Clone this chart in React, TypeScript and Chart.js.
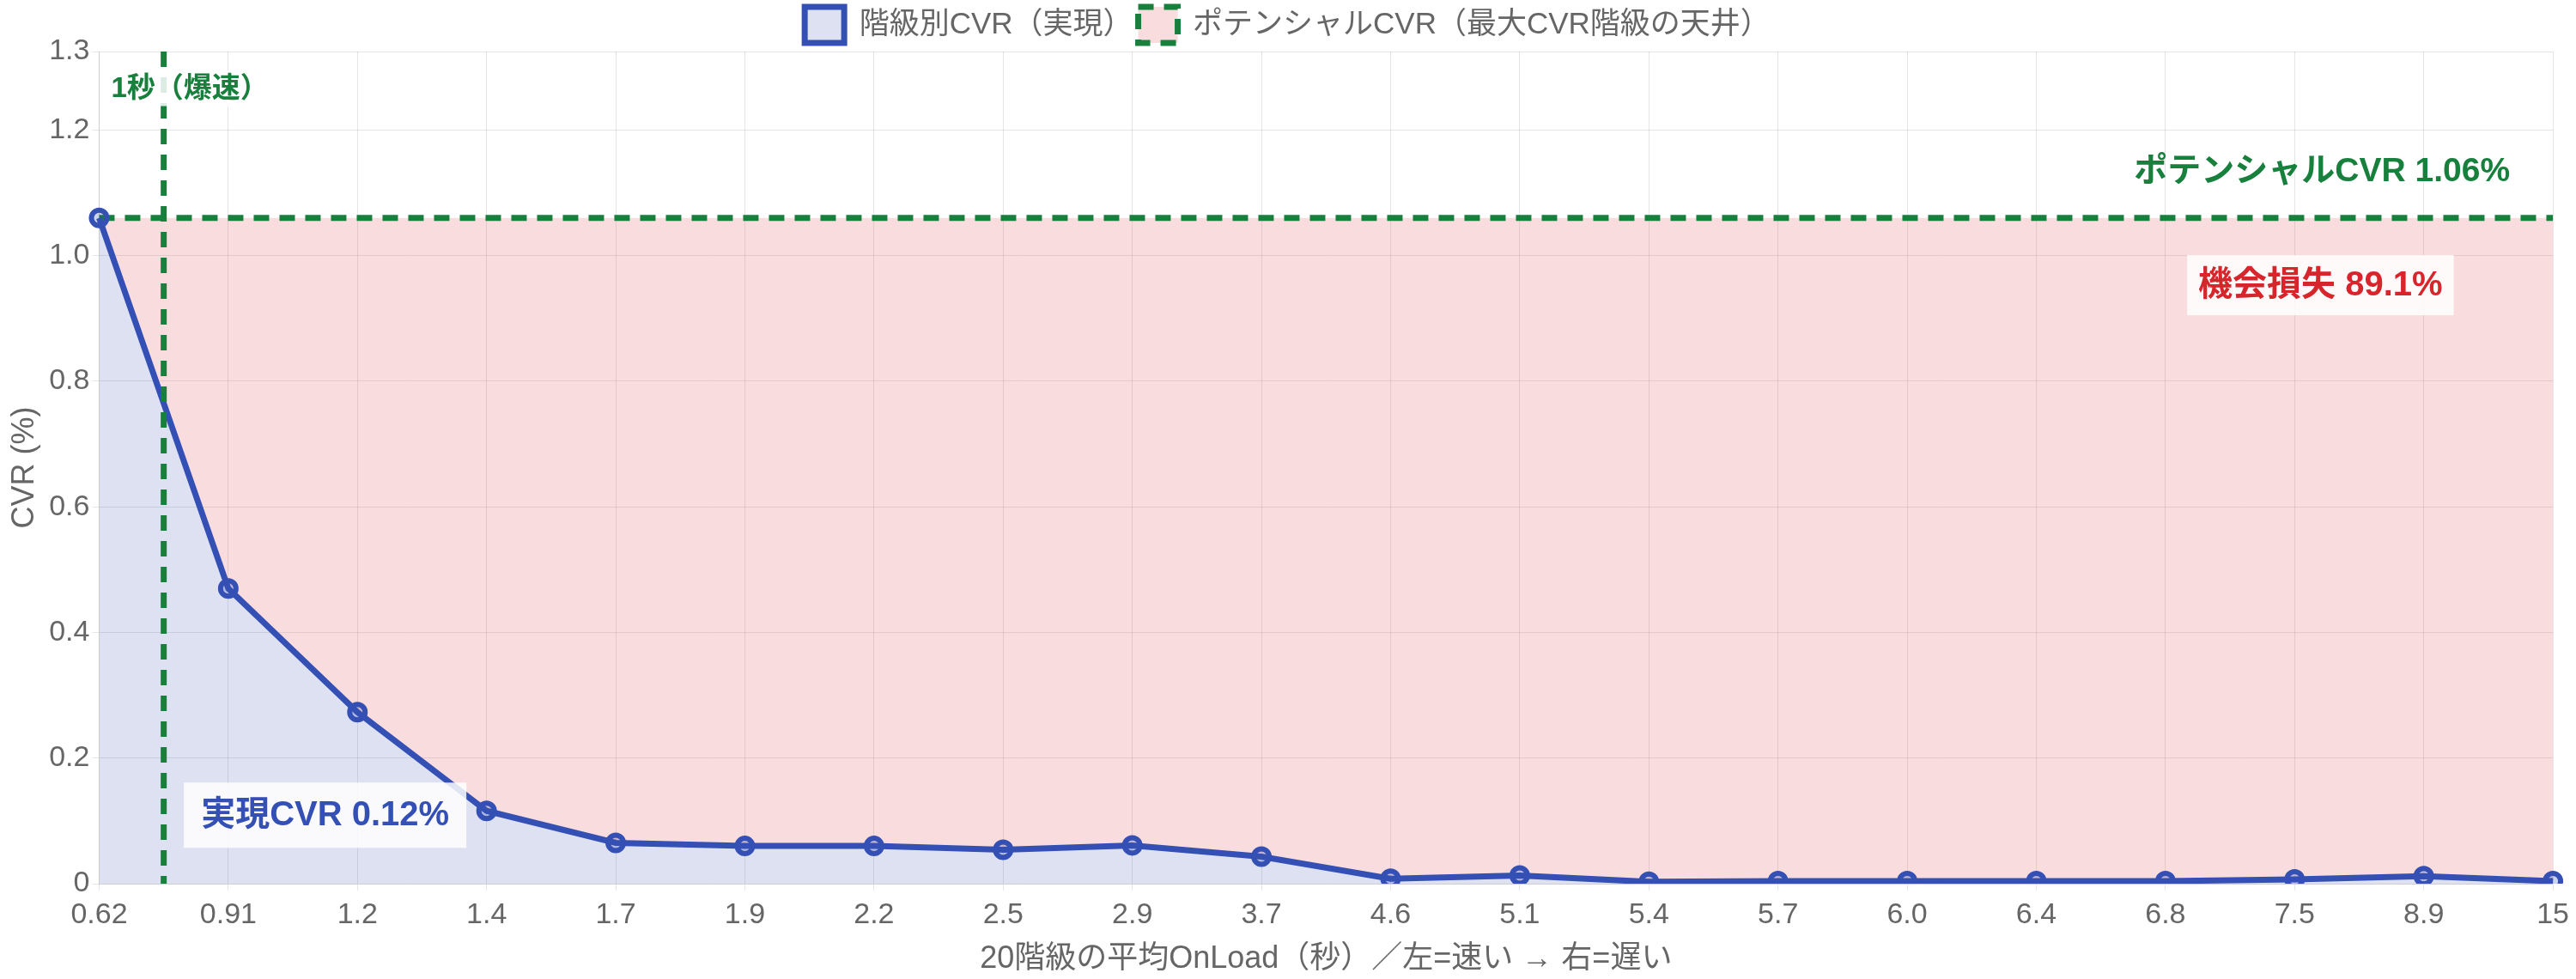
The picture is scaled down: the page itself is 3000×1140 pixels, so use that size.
import React, { useRef, useEffect } from 'react';
import { Chart, registerables } from 'chart.js';

Chart.register(...registerables);

// 20階級の平均OnLoad（秒）
const loadLabels: string[] = [
  '0.62', '0.91', '1.2', '1.4', '1.7', '1.9', '2.2', '2.5', '2.9', '3.7',
  '4.6', '5.1', '5.4', '5.7', '6.0', '6.4', '6.8', '7.5', '8.9', '15',
];
// 階級別CVR (%)
const cvrValues: number[] = [
  1.06, 0.47, 0.273, 0.116, 0.065, 0.060, 0.060, 0.054, 0.061, 0.043,
  0.008, 0.013, 0.003, 0.004, 0.004, 0.004, 0.004, 0.007, 0.012, 0.004,
];
const potentialCvr = 1.06;
const potentialValues: number[] = loadLabels.map(() => potentialCvr);
const yMax = potentialCvr * 1.25;

const realizedLabel = '実現CVR 0.12%';
const potentialLabel = 'ポテンシャルCVR 1.06%';
const lossLabel = '機会損失 89.1%';
const fastLabel = '1秒（爆速）';
const fastIndex = 0.5;

const BLUE = '#3450b4';
const GREEN = '#17803d';
const RED = '#d7262b';
const FONT = '"Liberation Sans", "Noto Sans CJK JP", sans-serif';

const boxedText = (ctx: CanvasRenderingContext2D, text: string, x: number, y: number, align: CanvasTextAlign, color: string, padX: number, padY: number, size: number, boxed: boolean) => {
  ctx.font = `bold ${size}px ${FONT}`;
  const w = ctx.measureText(text).width;
  let left = x;
  if (align === 'center') left = x - w / 2;
  if (align === 'right') left = x - w;
  if (boxed) {
    ctx.fillStyle = 'rgba(255,255,255,0.85)';
    ctx.fillRect(left - padX, y - size / 2 - padY, w + padX * 2, size + padY * 2);
  }
  ctx.fillStyle = color;
  ctx.textAlign = 'left';
  ctx.textBaseline = 'middle';
  ctx.fillText(text, left, y + 1);
};

const overlayPlugin = {
  id: 'overlay',
  afterDatasetsDraw(chart: any) {
    const { ctx, chartArea, scales } = chart;
    const x = scales.x.getPixelForValue(fastIndex);
    ctx.save();
    ctx.strokeStyle = GREEN;
    ctx.lineWidth = 7;
    ctx.setLineDash([18, 12]);
    ctx.beginPath();
    ctx.moveTo(x, chartArea.top);
    ctx.lineTo(x, chartArea.bottom);
    ctx.stroke();
    ctx.setLineDash([]);

    boxedText(ctx, fastLabel, chartArea.left + 14, chartArea.top + 43, 'left', GREEN, 6, 4, 33, true);
    boxedText(ctx, potentialLabel, chartArea.right - 50, scales.y.getPixelForValue(potentialCvr) - 55, 'right', GREEN, 0, 0, 39, false);
    boxedText(ctx, lossLabel, scales.x.getPixelForValue(17.2), scales.y.getPixelForValue(0.953), 'center', RED, 13, 15, 40, true);
    boxedText(ctx, realizedLabel, scales.x.getPixelForValue(1.75), scales.y.getPixelForValue(0.109), 'center', BLUE, 20, 18, 40, true);
    ctx.restore();
  },
};

const CvrChart: React.FC = () => {
  const chartRef = useRef<HTMLCanvasElement | null>(null);
  const chartInstanceRef = useRef<Chart | null>(null);

  useEffect(() => {
    document.body.style.margin = '0';
    if (chartRef.current) {
      if (chartInstanceRef.current) {
        chartInstanceRef.current.destroy();
        chartInstanceRef.current = null;
      }
      const tickFont = { family: FONT, size: 34 };
      const chart = new Chart(chartRef.current, {
        type: 'line',
        data: {
          labels: loadLabels,
          datasets: [
            {
              label: '階級別CVR（実現）',
              data: cvrValues,
              borderColor: BLUE,
              backgroundColor: 'rgba(52, 80, 180, 0.17)',
              borderWidth: 7,
              fill: 'origin',
              pointRadius: 9,
              pointBorderWidth: 6,
              pointBackgroundColor: 'rgba(52, 80, 180, 0.25)',
              pointBorderColor: BLUE,
              tension: 0,
            },
            {
              label: 'ポテンシャルCVR（最大CVR階級の天井）',
              data: potentialValues,
              borderColor: GREEN,
              backgroundColor: 'rgba(226, 80, 90, 0.2)',
              borderWidth: 7,
              borderDash: [18, 12],
              fill: '-1',
              pointRadius: 0,
            },
          ],
        },
        options: {
          animation: false,
          responsive: true,
          maintainAspectRatio: false,
          devicePixelRatio: 1,
          layout: { padding: { top: 2, right: 4, left: 3, bottom: 0 } },
          plugins: {
            legend: {
              position: 'top',
              labels: {
                color: '#666',
                font: { family: FONT, size: 35 },
                boxWidth: 46,
                boxHeight: 42,
                padding: 6,
              },
            },
            tooltip: { enabled: false },
          },
          scales: {
            x: {
              offset: false,
              grid: { color: 'rgba(0,0,0,0.1)', lineWidth: 1 },
              ticks: { color: '#666', font: tickFont, autoSkip: false, maxRotation: 0, padding: 8 },
              title: {
                display: true,
                text: '20階級の平均OnLoad（秒）／左=速い → 右=遅い',
                color: '#666',
                font: { family: FONT, size: 36 },
                padding: { top: 2, bottom: 1 },
              },
            },
            y: {
              min: 0,
              max: yMax,
              grid: { color: 'rgba(0,0,0,0.1)', lineWidth: 1 },
              ticks: {
                color: '#666',
                font: tickFont,
                stepSize: 0.2,
              },
              title: {
                display: true,
                text: 'CVR (%)',
                color: '#666',
                font: { family: FONT, size: 36 },
              },
            },
          },
        },
        plugins: [overlayPlugin],
      });
      chartInstanceRef.current = chart;
    }
    return () => {
      if (chartInstanceRef.current !== null) {
        chartInstanceRef.current.destroy();
        chartInstanceRef.current = null;
      }
    };
  }, []);

  return (
    <div style={{ width: '3000px', height: '1140px', position: 'relative' }}>
      <canvas ref={chartRef}></canvas>
    </div>
  );
};

export default function App() {
  return <CvrChart />;
}
